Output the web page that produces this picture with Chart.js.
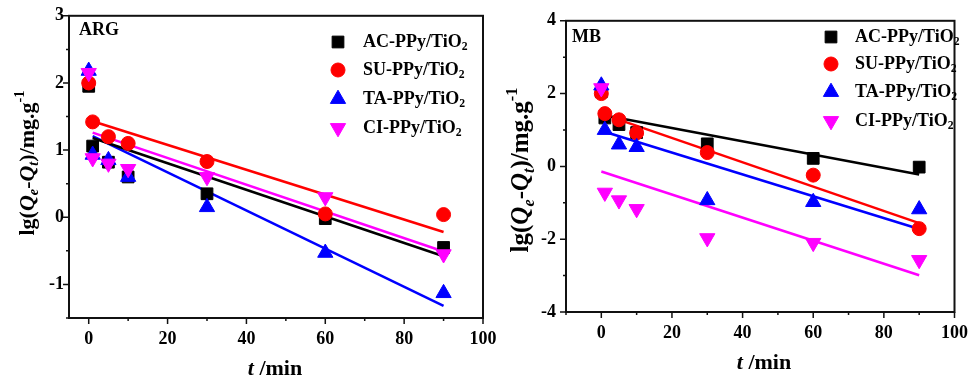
<!DOCTYPE html>
<html>
<head>
<meta charset="utf-8">
<script src="https://cdn.jsdelivr.net/npm/chart.js@4.4.1/dist/chart.umd.min.js"></script>
<style>
  html, body { margin: 0; padding: 0; background: #fff; }
  #wrap { position: relative; width: 979px; height: 387px; }
  canvas { position: absolute; left: 0; top: 0; }
</style>
</head>
<body>
<div id="wrap">
  <canvas id="argChart" width="979" height="387"></canvas>
  <canvas id="mbChart" width="979" height="387"></canvas>
</div>
<script>
// sampling times (min)
const times = [0, 1, 5, 10, 30, 60, 90];

// ARG panel, lg(Qe-Qt)
const argAC = [1.95, 1.06, 0.82, 0.60, 0.35, -0.02, -0.45];
const argSU = [2.00, 1.42, 1.20, 1.10, 0.83, 0.05, 0.04];
const argTA = [2.18, 0.93, 0.85, 0.60, 0.15, -0.53, -1.13];
const argCI = [2.15, 0.88, 0.80, 0.72, 0.60, 0.30, -0.55];
// fitted lines (start, end)
const argFitT = [1, 90];
const argFitAC = [1.18, -0.58];
const argFitSU = [1.43, -0.22];
const argFitTA = [1.21, -1.32];
const argFitCI = [1.26, -0.51];

// MB panel
const mbAC = [2.05, 1.33, 1.15, 0.93, 0.62, 0.22, -0.02];
const mbSU = [2.00, 1.45, 1.28, 0.92, 0.38, -0.24, -1.71];
const mbTA = [2.22, 1.00, 0.60, 0.53, -0.93, -0.98, -1.18];
const mbCI = [2.15, -0.72, -0.93, -1.17, -1.97, -2.10, -2.57];
const mbFitT = [0, 90];
const mbFitAC = [1.42, -0.22];
const mbFitSU = [1.45, -1.56];
const mbFitTA = [0.98, -1.72];
const mbFitCI = [-0.14, -2.99];

// axis ticks
const argXMajor = [0, 20, 40, 60, 80, 100];
const argXMinor = [10, 30, 50, 70, 90];
const argYMajor = [-1, 0, 1, 2, 3];
const argYMinor = [-1.5, -0.5, 0.5, 1.5, 2.5];
const mbXMajor = [0, 20, 40, 60, 80, 100];
const mbXMinor = [-10, 10, 30, 50, 70, 90];
const mbYMajor = [-4, -2, 0, 2, 4];
const mbYMinor = [-3, -1, 1, 3];

const names = ['AC-PPy/TiO', 'SU-PPy/TiO', 'TA-PPy/TiO', 'CI-PPy/TiO'];
const colors = ['#000000', '#ff0000', '#0000ff', '#ff00ff'];
const markers = [
  { style: 'rect', rot: 0, r: 8.3 },
  { style: 'circle', rot: 0, r: 7 },
  { style: 'triangle', rot: 0, r: 8.8 },
  { style: 'triangle', rot: 180, r: 8.8 }
];

const SERIF = '"Liberation Serif", "Times New Roman", serif';

function fontStr(size, italic) {
  return (italic ? 'italic ' : '') + 'bold ' + size + 'px ' + SERIF;
}

// rich text: parts = [{t, i, s:'sub'|'sup'}]
function partSize(p, size) { return p.s ? size * 0.65 : size; }
function richWidth(ctx, parts, size) {
  let w = 0;
  parts.forEach(p => {
    ctx.font = fontStr(partSize(p, size), p.i);
    w += ctx.measureText(p.t).width;
  });
  return w;
}
function drawRich(ctx, parts, x, y, size, align) {
  let cx = align === 'center' ? x - richWidth(ctx, parts, size) / 2 : x;
  ctx.textBaseline = 'middle';
  ctx.textAlign = 'left';
  parts.forEach(p => {
    ctx.font = fontStr(partSize(p, size), p.i);
    let dy = 0;
    if (p.s === 'sub') dy = size * 0.3;
    if (p.s === 'sup') dy = -size * 0.35;
    ctx.fillText(p.t, cx, y + dy);
    cx += ctx.measureText(p.t).width;
  });
}

const yTitle = [
  { t: 'lg(' }, { t: 'Q', i: true }, { t: 'e', i: true, s: 'sub' }, { t: '-' },
  { t: 'Q', i: true }, { t: 't', i: true, s: 'sub' }, { t: ')/mg.g' }, { t: '-1', s: 'sup' }
];
const xTitle = [{ t: 't', i: true }, { t: ' /min' }];

const decorPlugin = {
  id: 'decor',
  afterDraw(chart, args, o) {
    const ctx = chart.ctx;
    const a = chart.chartArea;
    const xs = chart.scales.x, ys = chart.scales.y;
    ctx.save();
    ctx.strokeStyle = '#111';
    ctx.fillStyle = '#000';
    ctx.lineWidth = 2;
    ctx.strokeRect(a.left, a.top, a.right - a.left, a.bottom - a.top);
    ctx.lineWidth = 1.5;
    ctx.beginPath();
    o.xMajor.forEach(v => { const p = xs.getPixelForValue(v); ctx.moveTo(p, a.bottom); ctx.lineTo(p, a.bottom + 6); });
    o.xMinor.forEach(v => { const p = xs.getPixelForValue(v); ctx.moveTo(p, a.bottom); ctx.lineTo(p, a.bottom + 3); });
    o.yMajor.forEach(v => { const p = ys.getPixelForValue(v); ctx.moveTo(a.left, p); ctx.lineTo(a.left - 6, p); });
    o.yMinor.forEach(v => { const p = ys.getPixelForValue(v); ctx.moveTo(a.left, p); ctx.lineTo(a.left - 3, p); });
    ctx.stroke();

    // axis titles
    drawRich(ctx, xTitle, o.xTitlePos[0], o.xTitlePos[1], 22, 'center');
    ctx.save();
    ctx.translate(o.yTitlePos[0], o.yTitlePos[1]);
    ctx.rotate(-Math.PI / 2);
    drawRich(ctx, yTitle, 0, 0, o.yTitleSize, 'center');
    ctx.restore();

    // panel label
    drawRich(ctx, [{ t: o.panel }], o.panelPos[0], o.panelPos[1], 18, 'left');

    // legend
    names.forEach((n, i) => {
      const y = o.legendRows[i];
      ctx.fillStyle = colors[i];
      ctx.strokeStyle = colors[i];
      ctx.lineWidth = 1;
      Chart.helpers.drawPoint(ctx, { pointStyle: markers[i].style, rotation: markers[i].rot, radius: markers[i].r, borderWidth: 1 }, o.legendX, y);
      ctx.fillStyle = '#000';
      drawRich(ctx, [{ t: n }, { t: '2', s: 'sub' }], o.legendTextX, y, 18, 'left');
    });
    ctx.restore();
  }
};

function buildDatasets(series, fits, fitT) {
  const ds = [];
  fits.forEach((f, i) => {
    ds.push({
      data: fitT.map((t, k) => ({ x: t, y: f[k] })),
      showLine: true,
      borderColor: colors[i],
      borderWidth: 2.5,
      pointRadius: 0,
      order: 10
    });
  });
  series.forEach((s, i) => {
    ds.push({
      data: times.map((t, k) => ({ x: t, y: s[k] })),
      backgroundColor: colors[i],
      borderColor: colors[i],
      borderWidth: 1,
      pointStyle: markers[i].style,
      pointRotation: markers[i].rot,
      pointRadius: markers[i].r,
      order: 4 - i
    });
  });
  return ds;
}

function makeChart(id, cfg) {
  const tickFont = { family: SERIF, size: 18, weight: 'bold' };
  return new Chart(document.getElementById(id), {
    type: 'scatter',
    data: { datasets: buildDatasets(cfg.series, cfg.fits, cfg.fitT) },
    plugins: [decorPlugin],
    options: {
      responsive: false,
      animation: false,
      events: [],
      layout: { padding: cfg.padding },
      plugins: {
        legend: { display: false },
        tooltip: { enabled: false },
        decor: cfg.decor
      },
      scales: {
        x: {
          type: 'linear', min: cfg.xRange[0], max: cfg.xRange[1],
          grid: { display: false, drawTicks: false }, border: { display: false },
          afterBuildTicks: s => { s.ticks = cfg.decor.xMajor.map(v => ({ value: v })); },
          afterFit: s => { s.height = 40; },
          ticks: { font: tickFont, color: '#000', padding: 11, autoSkip: false, maxRotation: 0 }
        },
        y: {
          type: 'linear', min: cfg.yRange[0], max: cfg.yRange[1],
          grid: { display: false, drawTicks: false }, border: { display: false },
          afterBuildTicks: s => { s.ticks = cfg.decor.yMajor.map(v => ({ value: v })); },
          afterFit: s => { s.width = 40; },
          ticks: { font: tickFont, color: '#000', padding: cfg.yPad, autoSkip: false }
        }
      }
    }
  });
}

makeChart('argChart', {
  series: [argAC, argSU, argTA, argCI],
  fits: [argFitAC, argFitSU, argFitTA, argFitCI],
  fitT: argFitT,
  xRange: [-5, 100], yRange: [-1.5, 3], yPad: 5,
  padding: { left: 29, right: 496, top: 12, bottom: 29 },
  decor: {
    xMajor: argXMajor, xMinor: argXMinor, yMajor: argYMajor, yMinor: argYMinor,
    xTitlePos: [275, 369], yTitlePos: [28, 163], yTitleSize: 22,
    panel: 'ARG', panelPos: [79, 30],
    legendX: 338, legendTextX: 363, legendRows: [42, 70, 99, 128]
  }
});

makeChart('mbChart', {
  series: [mbAC, mbSU, mbTA, mbCI],
  fits: [mbFitAC, mbFitSU, mbFitTA, mbFitCI],
  fitT: mbFitT,
  xRange: [-10, 100], yRange: [-4, 4], yPad: 10,
  padding: { left: 526, right: 18, top: 18, bottom: 35 },
  decor: {
    xMajor: mbXMajor, xMinor: mbXMinor, yMajor: mbYMajor, yMinor: mbYMinor,
    xTitlePos: [764, 363], yTitlePos: [522, 170], yTitleSize: 25,
    panel: 'MB', panelPos: [572, 37],
    legendX: 831, legendTextX: 855, legendRows: [37, 64, 92, 121]
  }
});
</script>
</body>
</html>
